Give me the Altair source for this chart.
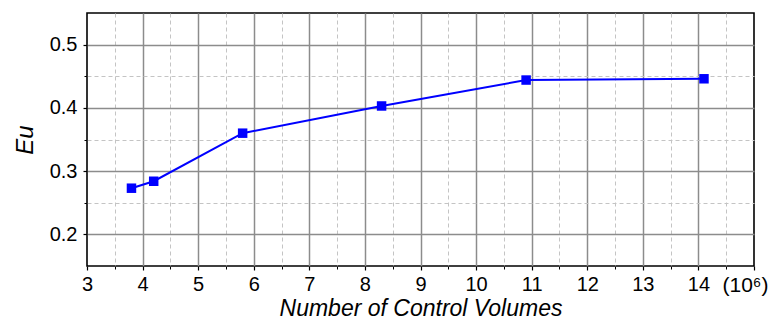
import altair as alt
import pandas as pd

# Data
cv = [3.8, 4.2, 5.8, 8.3, 10.9, 14.1]          # number of control volumes (x 10^6)
eu = [0.273, 0.284, 0.360, 0.403, 0.444, 0.446]  # Eu

x_major = [3, 4, 5, 6, 7, 8, 9, 10, 11, 12, 13, 14, 15]
x_grid = [4, 5, 6, 7, 8, 9, 10, 11, 12, 13, 14]
x_minor = [3.5, 4.5, 5.5, 6.5, 7.5, 8.5, 9.5, 10.5, 11.5, 12.5, 13.5, 14.5]
y_major = [0.2, 0.3, 0.4, 0.5]
y_minor = [0.25, 0.35, 0.45]

df = pd.DataFrame({"cv": cv, "eu": eu})

FONT = "Liberation Sans"
xs = alt.Scale(domain=[3, 15], nice=False, zero=False)
ys = alt.Scale(domain=[0.15, 0.55], nice=False, zero=False)
base = alt.Chart(df)

minor = base.mark_point(opacity=0).encode(
    x=alt.X("cv:Q", scale=xs, axis=alt.Axis(values=x_minor, orient="bottom", grid=True,
            gridDash=[4, 3], gridColor="#c4c4c4", gridWidth=1, labels=False, ticks=True,
            tickSize=3, tickColor="#000000", tickWidth=1, domain=False, title=None)),
    y=alt.Y("eu:Q", scale=ys, axis=alt.Axis(values=y_minor, orient="left", grid=True,
            gridDash=[4, 3], gridColor="#c4c4c4", gridWidth=1, labels=False, ticks=True,
            tickSize=3, tickColor="#000000", tickWidth=1, domain=False, title=None)),
)

major_grid = base.mark_point(opacity=0).encode(
    x=alt.X("cv:Q", scale=xs, axis=alt.Axis(values=x_grid, orient="bottom", grid=True,
            gridColor="#8c8c8c", gridWidth=1.5, labels=False, ticks=False,
            domain=False, title=None)),
    y=alt.Y("eu:Q", scale=ys, axis=alt.Axis(values=y_major, orient="left", grid=True,
            gridColor="#8c8c8c", gridWidth=1.5, labels=False, ticks=False,
            domain=False, title=None)),
)

line = base.mark_line(color="#0000ff", strokeWidth=2).encode(
    x=alt.X("cv:Q", scale=xs, axis=alt.Axis(
        values=x_major, orient="bottom", grid=False, domain=False,
        ticks=True, tickSize=4, tickColor="#000000", tickWidth=1.2,
        labelExpr="datum.value == 15 ? '(10⁶)' : datum.label",
        labelOffset={"condition": {"test": "datum.value == 15", "value": -9}, "value": 0},
        labelFontSize={"condition": {"test": "datum.value == 15", "value": 21}, "value": 20},
        labelFlush=False, labelOverlap=False, labelBound=False,
        labelFont=FONT, labelColor="#000000", labelPadding=4,
        title="Number of Control Volumes", titleFont=FONT, titleFontSize=23,
        titleFontStyle="italic", titleFontWeight="normal", titleColor="#000000",
        titlePadding=2)),
    y=alt.Y("eu:Q", scale=ys, axis=alt.Axis(
        values=y_major, orient="left", grid=False, domain=False, format=".1f",
        ticks=True, tickSize=4, tickColor="#000000", tickWidth=1.2,
        labelFont=FONT, labelFontSize=20, labelColor="#000000", labelPadding=6,
        title="Eu", titleFont=FONT, titleFontSize=24, titleFontStyle="italic",
        titleFontWeight="normal", titleColor="#000000", titlePadding=12)),
)

points = base.mark_point(shape="square", filled=True, size=90, color="#0000ff", opacity=1).encode(
    x=alt.X("cv:Q", scale=xs, axis=None),
    y=alt.Y("eu:Q", scale=ys, axis=None),
)

chart = (
    alt.layer(minor, major_grid, line, points)
    .resolve_axis(x="independent", y="independent")
    .properties(width=667, height=253, autosize=alt.AutoSizeParams(type="none"),
                padding={"left": 87, "top": 13, "right": 17, "bottom": 56},
                background="#ffffff")
    .configure_view(stroke="#000000", strokeWidth=1.6)
)

chart.save("out.html", embed_options={"renderer": "svg", "actions": False})
